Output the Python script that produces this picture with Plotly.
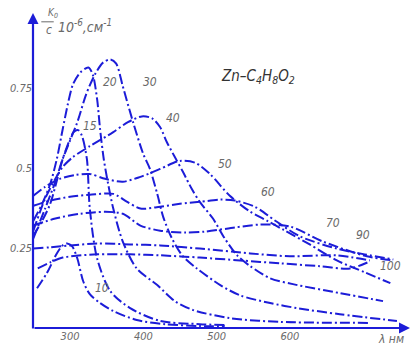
import plotly.graph_objects as go

# ---- data ----
labels = ["10", "15", "20", "30", "40", "50", "60", "70", "90", "100"]

wl_10 = [255, 269, 282, 290, 296, 303, 310, 318, 327, 341, 359, 391, 430, 477, 511]
k_10 = [0.124, 0.174, 0.233, 0.258, 0.264, 0.255, 0.217, 0.146, 0.106, 0.078, 0.053, 0.025, 0.012, 0.006, 0.006]

wl_15 = [250, 262, 273, 282, 290, 300, 305, 311, 316, 323, 327, 337, 355, 382, 423, 477, 511]
k_15 = [0.289, 0.335, 0.388, 0.460, 0.528, 0.590, 0.612, 0.618, 0.602, 0.528, 0.373, 0.217, 0.115, 0.062, 0.022, 0.012, 0.009]

wl_20 = [250, 262, 273, 282, 290, 297, 304, 314, 325, 331, 337, 341, 346, 352, 359, 372, 391, 419, 443, 468, 518, 587, 709]
k_20 = [0.335, 0.388, 0.450, 0.528, 0.621, 0.699, 0.761, 0.798, 0.814, 0.792, 0.714, 0.621, 0.528, 0.450, 0.373, 0.270, 0.186, 0.134, 0.084, 0.056, 0.031, 0.019, 0.016]

wl_30 = [250, 266, 280, 290, 310, 322, 334, 345, 355, 363, 372, 386, 400, 409, 419, 427, 439, 454, 473, 505, 532, 573, 610, 668, 746]
k_30 = [0.280, 0.373, 0.457, 0.528, 0.643, 0.730, 0.792, 0.829, 0.839, 0.826, 0.755, 0.643, 0.543, 0.497, 0.419, 0.348, 0.280, 0.224, 0.186, 0.134, 0.102, 0.078, 0.062, 0.043, 0.022]

wl_40 = [250, 266, 280, 290, 304, 327, 359, 379, 398, 412, 423, 432, 443, 454, 466, 477, 495, 511, 528, 546, 573, 604, 668, 727]
k_40 = [0.304, 0.404, 0.466, 0.503, 0.534, 0.568, 0.612, 0.643, 0.661, 0.655, 0.627, 0.581, 0.534, 0.488, 0.435, 0.394, 0.342, 0.280, 0.227, 0.193, 0.155, 0.137, 0.109, 0.084]

wl_50 = [250, 266, 286, 307, 327, 348, 372, 396, 423, 450, 471, 491, 518, 546, 569, 591, 627, 664, 702, 737]
k_50 = [0.413, 0.441, 0.466, 0.478, 0.481, 0.466, 0.457, 0.472, 0.497, 0.522, 0.516, 0.481, 0.413, 0.363, 0.335, 0.307, 0.261, 0.211, 0.174, 0.140]

wl_60 = [250, 273, 300, 327, 359, 378, 396, 423, 450, 477, 505, 525, 552, 580, 614, 664, 702, 741]
k_60 = [0.382, 0.398, 0.410, 0.416, 0.419, 0.394, 0.373, 0.379, 0.388, 0.394, 0.401, 0.398, 0.379, 0.335, 0.286, 0.248, 0.230, 0.214]

wl_70 = [250, 280, 314, 348, 372, 396, 423, 457, 484, 525, 559, 600, 645, 705, 741]
k_70 = [0.320, 0.342, 0.357, 0.363, 0.357, 0.320, 0.304, 0.298, 0.301, 0.314, 0.323, 0.317, 0.270, 0.224, 0.211]

wl_90 = [250, 273, 300, 337, 382, 423, 477, 546, 600, 664, 709]
k_90 = [0.248, 0.252, 0.258, 0.264, 0.261, 0.258, 0.248, 0.233, 0.224, 0.227, 0.211]

wl_100 = [256, 273, 290, 337, 382, 423, 477, 532, 587, 641, 682, 709]
k_100 = [0.186, 0.205, 0.220, 0.230, 0.230, 0.227, 0.220, 0.211, 0.202, 0.193, 0.186, 0.208]

x_ticks = [300, 400, 500, 600]
y_ticks = [0.25, 0.5, 0.75]
y_tick_text = ["0.25", "0.5", "0.75"]

series = [(wl_10, k_10), (wl_15, k_15), (wl_20, k_20), (wl_30, k_30), (wl_40, k_40),
          (wl_50, k_50), (wl_60, k_60), (wl_70, k_70), (wl_90, k_90), (wl_100, k_100)]

# label anchor positions (layout)
label_pos = [(344, 0.124), (327, 0.630), (355, 0.770), (409, 0.770), (440, 0.655),
             (511, 0.512), (570, 0.425), (659, 0.329), (700, 0.292), (737, 0.193)]

BLUE = "#1c1cd8"
FONT = "Liberation Sans Narrow, DejaVu Sans Condensed, sans-serif"
GRAY = "#6a6a6a"

fig = go.Figure()
for (wl, k), name in zip(series, labels):
    fig.add_trace(go.Scatter(
        x=wl, y=k, mode="lines", name=name, showlegend=False,
        line=dict(color=BLUE, width=2, dash="10px,3px,2px,3px", shape="spline", smoothing=0.8),
        hoverinfo="skip"))

for name, (lx, ly) in zip(labels, label_pos):
    fig.add_annotation(x=lx, y=ly, xref="x", yref="y", text=name, showarrow=False,
                       font=dict(family=FONT, size=12, color=GRAY, style="italic"))

fig.add_annotation(x=556, y=0.786, xref="x", yref="y",
                   text="Zn–C<sub>4</sub>H<sub>8</sub>O<sub>2</sub>", showarrow=False,
                   font=dict(family=FONT, size=15, color="#333333", style="italic"))

# axis arrows
fig.add_annotation(x=0, y=1, xref="paper", yref="paper", ax=0, ay=317, text="",
                   showarrow=True, arrowhead=2, arrowsize=1, arrowwidth=2.2, arrowcolor=BLUE)
fig.add_annotation(x=1, y=0, xref="paper", yref="paper", ax=-377, ay=0, text="",
                   showarrow=True, arrowhead=2, arrowsize=1, arrowwidth=2.2, arrowcolor=BLUE)

# y-axis title (fraction K0 / c, then 10^-6, см^-1)
fig.add_annotation(x=0.035, y=1.0, xref="paper", yref="paper", text="K<sub>0</sub>",
                   yanchor="middle", showarrow=False,
                   font=dict(family=FONT, size=10, color=GRAY, style="italic"))
fig.add_annotation(x=0.030, y=0.945, xref="paper", yref="paper", text="c",
                   yanchor="middle", showarrow=False,
                   font=dict(family=FONT, size=12, color=GRAY, style="italic"))
fig.add_shape(type="line", xref="paper", yref="paper", x0=0.022, x1=0.055, y0=0.972, y1=0.972,
              line=dict(color=GRAY, width=1))
fig.add_annotation(x=0.062, y=0.958, xref="paper", yref="paper",
                   text="10<sup>-6</sup>,см<sup>-1</sup>", xanchor="left", yanchor="middle",
                   showarrow=False, font=dict(family=FONT, size=14, color=GRAY, style="italic"))
# x-axis title
fig.add_annotation(x=0.99, y=-0.005, xref="paper", yref="paper", text="λ нм", xanchor="right",
                   yanchor="top", showarrow=False,
                   font=dict(family=FONT, size=12, color=GRAY, style="italic"))

fig.update_layout(
    width=416, height=349, autosize=False,
    margin=dict(l=33, r=6, t=13, b=19),
    paper_bgcolor="white", plot_bgcolor="white",
    xaxis=dict(range=[249.5, 763.8], tickvals=x_ticks, showgrid=False, zeroline=False,
               showline=False, ticks="", ticklabelstandoff=0,
               tickfont=dict(family=FONT, size=11, color=GRAY, style="italic")),
    yaxis=dict(range=[0, 0.984], tickvals=y_ticks, ticktext=y_tick_text, showgrid=False,
               zeroline=False, showline=False, ticks="",
               tickfont=dict(family=FONT, size=11, color=GRAY, style="italic")),
)

fig.write_html("out.html", config={"displayModeBar": False},
               post_script="document.body.style.margin='0';document.body.style.overflow='hidden';")
